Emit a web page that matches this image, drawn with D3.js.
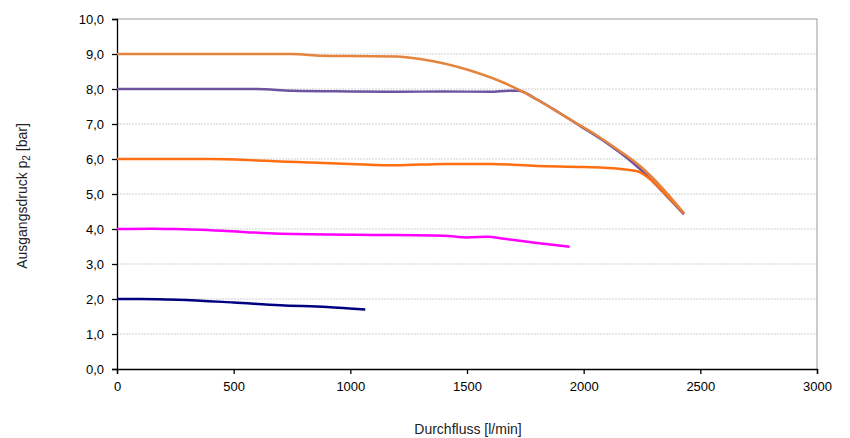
<!DOCTYPE html>
<html><head><meta charset="utf-8">
<script src="https://cdn.jsdelivr.net/npm/d3@7"></script>
<style>body{margin:0;background:#fff}svg{display:block;font-family:"Liberation Sans",Arial,sans-serif}</style>
</head><body><svg id="c" width="850" height="438"></svg>
<script>
const xTicks = [0, 500, 1000, 1500, 2000, 2500, 3000];
const yTicks = [0,1,2,3,4,5,6,7,8,9,10];
const s9x = [0, 300, 600, 750, 880, 1000, 1200, 1250, 1350, 1450, 1550, 1650, 1750, 1850, 1950, 2050, 2150, 2250, 2340, 2430];
const s9y = [9.0, 9.0, 9.0, 9.0, 8.95, 8.94, 8.93, 8.9, 8.8, 8.65, 8.45, 8.2, 7.88, 7.5, 7.1, 6.7, 6.25, 5.75, 5.15, 4.45];
const s8x = [0, 300, 600, 750, 1000, 1200, 1400, 1600, 1680, 1720, 1800, 1900, 2000, 2100, 2200, 2260, 2340, 2430];
const s8y = [8.0, 8.0, 8.0, 7.95, 7.93, 7.92, 7.93, 7.92, 7.95, 7.95, 7.7, 7.3, 6.88, 6.45, 5.95, 5.6, 5.05, 4.42];
const s6x = [0, 200, 400, 700, 1000, 1200, 1400, 1600, 1800, 2000, 2150, 2230, 2280, 2350, 2430];
const s6y = [6.0, 6.0, 6.0, 5.93, 5.86, 5.82, 5.86, 5.86, 5.8, 5.77, 5.72, 5.65, 5.45, 5.0, 4.45];
const s4x = [0, 150, 250, 450, 650, 900, 1100, 1400, 1500, 1590, 1650, 1800, 1940];
const s4y = [4.0, 4.01, 4.0, 3.95, 3.88, 3.84, 3.83, 3.81, 3.76, 3.78, 3.73, 3.6, 3.49];
const s2x = [0, 100, 260, 500, 700, 900, 1064];
const s2y = [2.0, 2.0, 1.98, 1.9, 1.82, 1.77, 1.70];
const seriesColors = ["#000080", "#FF00FF", "#FF6F12", "#6E54A0", "#E5843C"];

const svg = d3.select("#c");
const L = 117, R = 817, T = 19, B = 369;
const x = d3.scaleLinear().domain([0, 3000]).range([L, R]);
const y = d3.scaleLinear().domain([0, 10]).range([B, T]);

// gridlines
svg.append("g").selectAll("line").data(yTicks.filter(d => d > 0 && d < 10)).join("line")
  .attr("x1", L).attr("x2", R).attr("y1", d => y(d)).attr("y2", d => y(d))
  .attr("stroke", "#cfcfcf").attr("stroke-dasharray", "2,1").attr("stroke-width", 1);
// top & right border
svg.append("path").attr("d", `M${L},${T}H${R}V${B}`).attr("fill", "none").attr("stroke", "#999").attr("stroke-width", 1);

const fmt = d => d.toFixed(1).replace(".", ",");
const yAxis = svg.append("g").attr("transform", `translate(${L},0)`)
  .call(d3.axisLeft(y).tickValues(yTicks).tickFormat(fmt).tickSize(5).tickPadding(8));
const xAxis = svg.append("g").attr("transform", `translate(0,${B})`)
  .call(d3.axisBottom(x).tickValues(xTicks).tickFormat(d3.format("d")).tickSize(5).tickPadding(8));
[yAxis, xAxis].forEach(a => {
  a.selectAll("text").attr("font-size", 13).attr("fill", "#000").attr("font-family", '"Liberation Sans",Arial,sans-serif');
  a.selectAll("line,path").attr("stroke", "#000").attr("stroke-width", 1.3);
});

const line = d3.line().x(d => x(d[0])).y(d => y(d[1])).curve(d3.curveMonotoneX);
const series = [[s2x, s2y], [s4x, s4y], [s6x, s6y], [s8x, s8y], [s9x, s9y]];
const drawOrder = [0, 1, 3, 2, 4];
drawOrder.forEach(i => {
  const [xs, ys] = series[i];
  svg.append("path").datum(xs.map((v, k) => [v, ys[k]])).attr("d", line)
    .attr("fill", "none").attr("stroke", seriesColors[i]).attr("stroke-width", 2.5)
    .attr("stroke-linejoin", "round");
});

// axis titles
svg.append("text").attr("x", 468).attr("y", 434).attr("text-anchor", "middle")
  .attr("font-size", 14).attr("fill", "#222").text("Durchfluss [l/min]");
const yt = svg.append("text").attr("transform", "translate(27,196) rotate(-90)")
  .attr("text-anchor", "middle").attr("font-size", 14).attr("fill", "#222");
yt.append("tspan").text("Ausgangsdruck p");
yt.append("tspan").attr("font-size", 10).attr("dy", 3).text("2");
yt.append("tspan").attr("dy", -3).text(" [bar]");
</script></body></html>
